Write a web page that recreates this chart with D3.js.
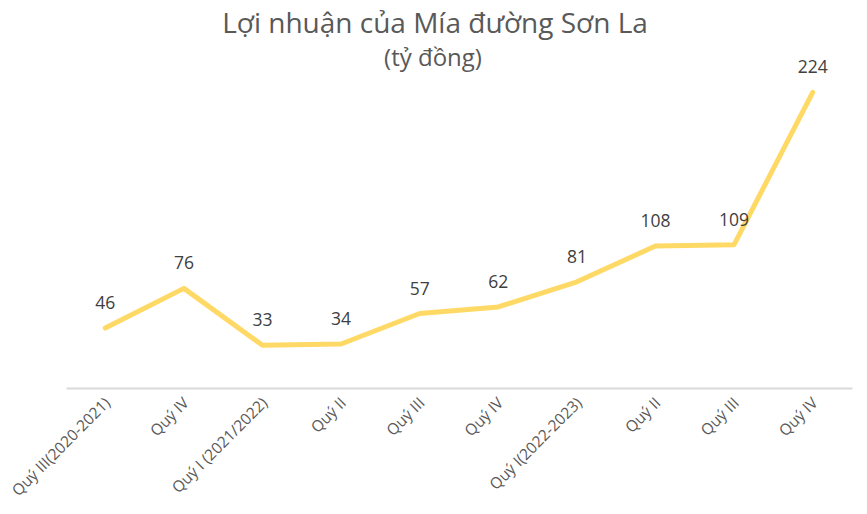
<!DOCTYPE html>
<html><head><meta charset="utf-8">
<script src="https://cdn.jsdelivr.net/npm/d3@7"></script>
<style>body{margin:0;background:#fff}svg{display:block}</style>
</head><body>
<script>
const categories = ["Quý III(2020-2021)","Quý IV","Quý I (2021/2022)","Quý II","Quý III","Quý IV","Quý I(2022-2023)","Quý II","Quý III","Quý IV"];
const profit = [46,76,33,34,57,62,81,108,109,224];
const title = "Lợi nhuận của Mía đường Sơn La";
const subtitle = "(tỷ đồng)";

const W=867,H=514;
const font="'Open Sans', 'Noto Sans', sans-serif";
const svg=d3.select("body").append("svg").attr("width",W).attr("height",H);
const x=d3.scaleBand().domain(d3.range(categories.length)).range([66,852]);
const y=d3.scaleLinear().domain([0,250]).range([389,58]);

svg.append("text").attr("x",435).attr("y",33).attr("text-anchor","middle")
  .attr("font-family",font).attr("font-size",28).attr("fill","#595959").text(title);
svg.append("text").attr("x",433).attr("y",66).attr("text-anchor","middle")
  .attr("font-family",font).attr("font-size",24).attr("fill","#595959").text(subtitle);

const axis=d3.axisBottom(x).tickSize(0).tickFormat(i=>categories[i]);
const g=svg.append("g").attr("transform","translate(0,388)").call(axis);
g.select(".domain").attr("stroke","#d9d9d9").attr("stroke-width",2);
g.selectAll("text").attr("font-family",font).attr("font-size",15.5).attr("fill","#595959")
  .attr("text-anchor","end").attr("dy",null).attr("y",0)
  .attr("transform","translate(6,16) rotate(-45)");

const line=d3.line().x((d,i)=>x(i)+x.bandwidth()/2).y(d=>y(d));
svg.append("path").datum(profit).attr("d",line).attr("fill","none")
  .attr("stroke","#FFD966").attr("stroke-width",5).attr("stroke-linecap","round").attr("stroke-linejoin","round");

svg.selectAll(".lbl").data(profit).enter().append("text").attr("class","lbl")
  .attr("x",(d,i)=>x(i)+x.bandwidth()/2).attr("y",d=>y(d)-19)
  .attr("text-anchor","middle").attr("font-family",font).attr("font-size",17.5).attr("fill","#404040")
  .text(d=>d);
</script>
</body></html>
